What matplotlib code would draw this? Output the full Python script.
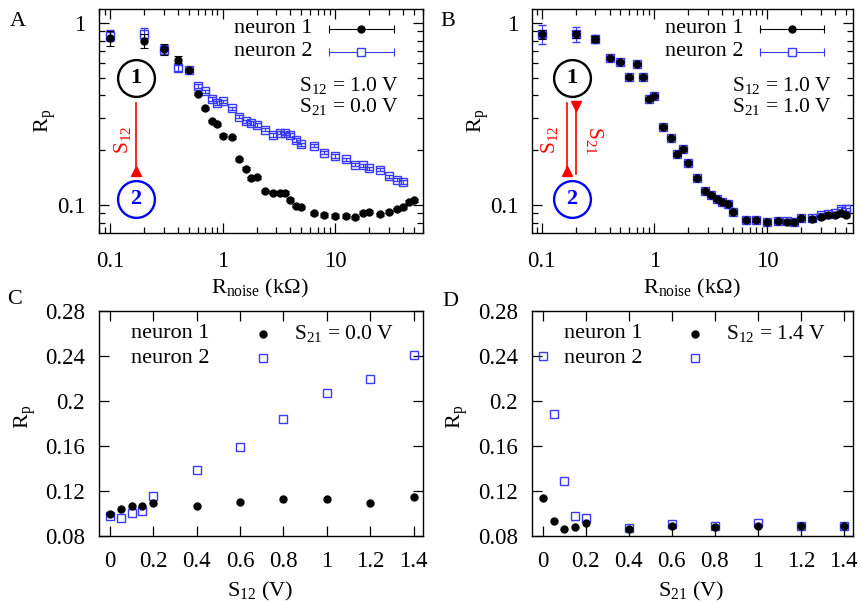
import matplotlib
matplotlib.use("Agg")
import matplotlib.pyplot as plt
from matplotlib.ticker import FixedLocator, NullFormatter, LogLocator
import numpy as np

plt.rcParams['font.family'] = ['Liberation Serif', 'DejaVu Serif']
plt.rcParams['mathtext.fontset'] = 'custom'
plt.rcParams['mathtext.rm'] = 'Liberation Serif'
plt.rcParams['mathtext.it'] = 'Liberation Serif:italic'
plt.rcParams['font.size'] = 16

# ---------------- data ----------------
r_noise = [0.1, 0.2, 0.3, 0.4, 0.5, 0.6, 0.7, 0.8, 0.9, 1.0, 1.2, 1.4, 1.6, 1.8, 2.0,
           2.4, 2.8, 3.2, 3.6, 4.0, 4.5, 5.0, 6.5, 8.0, 10, 12.5, 15, 17.5, 20, 25,
           30, 35, 40, 45, 50]

# Panel A (S12 = 1.0 V, S21 = 0.0 V)
a_n1 = [0.827, 0.80, 0.72, 0.63, 0.55, 0.41, 0.34, 0.29, 0.278, 0.241, 0.236, 0.178, 0.158,
        0.140, 0.142, 0.119, 0.117, 0.117, 0.117, 0.107, 0.099, 0.097, 0.090, 0.088, 0.087,
        0.087, 0.0855, 0.0908, 0.092, 0.089, 0.092, 0.0946, 0.097, 0.104, 0.106]
a_n1_err = [0.08, 0.07, 0.05, 0.03, 0.01, 0.008, 0.006, 0.005, 0.005, 0.004, 0.004, 0.003, 0.003,
            0.003, 0.003, 0.002, 0.002, 0.002, 0.002, 0.002, 0.002, 0.002, 0.002, 0.002, 0.002,
            0.002, 0.002, 0.002, 0.002, 0.002, 0.002, 0.002, 0.002, 0.002, 0.002]
a_n2 = [0.852, 0.874, 0.713, 0.565, 0.55, 0.452, 0.421, 0.382, 0.363, 0.371, 0.34, 0.306, 0.288,
        0.282, 0.275, 0.259, 0.243, 0.25, 0.248, 0.243, 0.228, 0.216, 0.212, 0.194, 0.186,
        0.178, 0.167, 0.165, 0.159, 0.156, 0.144, 0.138, 0.134]
a_n2_err = [0.06, 0.06, 0.04, 0.02, 0.015, 0.012, 0.01, 0.009, 0.008, 0.008, 0.007, 0.007, 0.006,
            0.006, 0.006, 0.005, 0.005, 0.005, 0.005, 0.005, 0.005, 0.004, 0.004, 0.004, 0.004,
            0.004, 0.004, 0.003, 0.003, 0.003, 0.003, 0.003, 0.003]

# Panel B (S12 = 1.0 V, S21 = 1.0 V)
b_n1 = [0.87, 0.87, 0.817, 0.641, 0.61, 0.504, 0.595, 0.508, 0.382, 0.398, 0.27, 0.235, 0.19,
        0.202, 0.171, 0.140, 0.120, 0.1135, 0.1074, 0.104, 0.102, 0.0919, 0.0826, 0.0826, 0.081,
        0.0815, 0.081, 0.0803, 0.0845, 0.084, 0.0855, 0.088, 0.088, 0.0908, 0.088]
b_n1_err = [0.05, 0.04, 0.03, 0.01, 0.01, 0.008, 0.008, 0.007, 0.005, 0.005, 0.004, 0.003, 0.003,
            0.003, 0.003, 0.002, 0.002, 0.002, 0.002, 0.002, 0.002, 0.002, 0.002, 0.002, 0.002,
            0.002, 0.002, 0.002, 0.002, 0.002, 0.002, 0.002, 0.002, 0.002, 0.002]
b_n2 = [0.87, 0.87, 0.817, 0.641, 0.61, 0.504, 0.595, 0.508, 0.382, 0.398, 0.27, 0.235, 0.19,
        0.202, 0.171, 0.140, 0.120, 0.1135, 0.1074, 0.104, 0.102, 0.0919, 0.0826, 0.0826, 0.081,
        0.0815, 0.0815, 0.0808, 0.0845, 0.0848, 0.088, 0.089, 0.09, 0.0953, 0.0946]
b_n2_err = [0.1, 0.08, 0.04, 0.015, 0.012, 0.01, 0.01, 0.009, 0.007, 0.007, 0.005, 0.004, 0.004,
            0.004, 0.003, 0.003, 0.003, 0.002, 0.002, 0.002, 0.002, 0.002, 0.002, 0.002, 0.002,
            0.002, 0.002, 0.002, 0.002, 0.002, 0.002, 0.002, 0.002, 0.002, 0.002]

# Panel C (S21 = 0.0 V), x = S12
s_vals = [0.0, 0.05, 0.1, 0.15, 0.2, 0.4, 0.6, 0.8, 1.0, 1.2, 1.4]
c_n1 = [0.0996, 0.1037, 0.1067, 0.1067, 0.1096, 0.1067, 0.1099, 0.1126, 0.1126, 0.1090, 0.1144]
c_n2 = [0.0978, 0.0957, 0.1007, 0.1025, 0.1156, 0.1387, 0.1594, 0.1837, 0.2074, 0.2199, 0.2406]

# Panel D (S12 = 1.4 V), x = S21
d_n1 = [0.1141, 0.0936, 0.0865, 0.0877, 0.0913, 0.0862, 0.0889, 0.0883, 0.0892, 0.0886, 0.0886]
d_n2 = [0.2403, 0.1887, 0.1292, 0.0978, 0.0957, 0.0871, 0.0907, 0.0892, 0.0913, 0.0889, 0.0892]

log_xticks = [0.1, 1, 10]
log_xticklabels = ['0.1', '1', '10']
log_yticks = [0.1, 1]
log_yticklabels = ['0.1', '1']
lin_xticks = [0, 0.2, 0.4, 0.6, 0.8, 1.0, 1.2, 1.4]
lin_xticklabels = ['0', '0.2', '0.4', '0.6', '0.8', '1', '1.2', '1.4']
lin_yticks = [0.08, 0.12, 0.16, 0.2, 0.24, 0.28]
lin_yticklabels = ['0.08', '0.12', '0.16', '0.2', '0.24', '0.28']

BLUE = '#3a3aff'
PURE_BLUE = '#0000ff'
RED = '#ff0000'
FS = 16
TFS = 16.5

W, H = 862, 605
fig = plt.figure(figsize=(W / 100, H / 100), dpi=100)


def ax_px(x0, y0, x1, y1):
    return fig.add_axes([x0 / W, 1 - y1 / H, (x1 - x0) / W, (y1 - y0) / H])


axA = ax_px(99, 9.3, 423, 232.7)
axB = ax_px(532, 9.3, 853, 232.7)
axC = ax_px(99, 311, 423, 536)
axD = ax_px(532, 311, 853, 536)


def style(ax):
    for s in ax.spines.values():
        s.set_linewidth(1.0)
    ax.tick_params(which='both', direction='in', top=True, right=True, width=0.9)
    ax.tick_params(which='major', length=7)
    ax.tick_params(which='minor', length=4)
    ax.tick_params(axis='y', pad=10, labelsize=TFS)
    ax.tick_params(axis='x', pad=13, labelsize=TFS)


def set_labels(ax, xlabel, xl_pos, yl_pos):
    ax.set_ylabel(r'$\mathrm{R_p}$', fontsize=FS)
    ax.set_xlabel(xlabel, fontsize=FS)
    ax.yaxis.set_label_coords(*yl_pos)
    ax.xaxis.set_label_coords(*xl_pos)
    ax.yaxis.label.set_ha('center')
    ax.yaxis.label.set_va('center')
    ax.xaxis.label.set_va('center')


def log_panel(ax, x, n1, e1, n2, e2, xlim, yl_x):
    ax.errorbar(x[:len(n2)], n2, yerr=e2, fmt='s', ms=6, mfc='none', mec=BLUE, mew=1.0,
                ecolor=BLUE, elinewidth=0.8, capsize=3, capthick=0.8, zorder=3)
    ax.errorbar(x[:len(n1)], n1, yerr=e1, fmt='o', ms=5, color='black', mec='black',
                ecolor='black', elinewidth=0.8, capsize=3, capthick=0.8, zorder=4)
    ax.set_xscale('log')
    ax.set_yscale('log')
    ax.set_xlim(*xlim)
    ax.set_ylim(0.0705, 1.19)
    ax.xaxis.set_major_locator(FixedLocator(log_xticks))
    ax.set_xticklabels(log_xticklabels)
    ax.xaxis.set_minor_locator(LogLocator(base=10, subs=np.arange(2, 10), numticks=20))
    ax.xaxis.set_minor_formatter(NullFormatter())
    ax.yaxis.set_major_locator(FixedLocator(log_yticks))
    ax.set_yticklabels(log_yticklabels)
    ax.yaxis.set_minor_locator(LogLocator(base=10, subs=np.arange(2, 10), numticks=20))
    ax.yaxis.set_minor_formatter(NullFormatter())
    style(ax)
    set_labels(ax, r'$\mathrm{R_{noise}}$ (k$\Omega$)', (0.497, -0.25), (yl_x, 0.5))
    # legend (manual, gnuplot style)
    T = ax.transAxes
    for yy, lab, kw in [(0.912, 'neuron 1', dict(marker='o', ms=5, color='black', mfc='black', mec='black')),
                        (0.809, 'neuron 2', dict(marker='s', ms=6, color=BLUE, mfc='white', mec=BLUE))]:
        ax.text(0.66, yy, lab, transform=T, ha='right', va='center', fontsize=FS)
        c = kw['color']
        ax.plot([0.71, 0.91], [yy, yy], transform=T, color=c, lw=0.8, clip_on=False, zorder=5)
        ax.plot([0.71, 0.91], [yy, yy], transform=T, ls='none', marker='|', ms=6, mew=0.8,
                color=c, clip_on=False, zorder=5)
        ax.plot([0.81], [yy], transform=T, ls='none', clip_on=False, zorder=6, **kw)


log_panel(axA, r_noise, a_n1, a_n1_err, a_n2, a_n2_err, (0.08, 60), -0.167)
log_panel(axB, r_noise, b_n1, b_n1_err, b_n2, b_n2_err, (0.082, 58), -0.168)

# text annotations A/B
for ax, s21, x0 in [(axA, '0.0', 0.617), (axB, '1.0', 0.623)]:
    T = ax.transAxes
    ax.text(x0, 0.657, r'$\mathrm{S_{12}}$ = 1.0 V', transform=T, ha='left', va='center', fontsize=15.5)
    ax.text(x0, 0.563, r'$\mathrm{S_{21}}$ = ' + s21 + ' V', transform=T, ha='left', va='center',
            fontsize=15.5)


def node(ax, fx, fy, label, color):
    T = ax.transAxes
    ax.plot([fx], [fy], transform=T, marker='o', ms=26.5, mfc='none', mec=color, mew=1.7,
            ls='none', clip_on=False, zorder=5)
    ax.text(fx, fy, label, transform=T, ha='center', va='center', fontsize=16,
            fontweight='bold', color=color, zorder=6)


# Panel A diagram
node(axA, 0.114, 0.6925, '1', 'black')
node(axA, 0.114, 0.151, '2', PURE_BLUE)
axA.plot([0.114, 0.114], [0.5805, 0.262], transform=axA.transAxes, color=RED, lw=1.2)
axA.plot([0.114], [0.275], transform=axA.transAxes, marker='^', ms=7, color=RED, ls='none')
axA.text(0.071, 0.415, r'$\mathrm{S_{12}}$', transform=axA.transAxes, rotation=90, color=RED,
         ha='center', va='center', fontsize=15.5)

# Panel B diagram
node(axB, 0.1246, 0.6925, '1', 'black')
node(axB, 0.1246, 0.151, '2', PURE_BLUE)
axB.plot([0.109, 0.109], [0.5805, 0.262], transform=axB.transAxes, color=RED, lw=1.2)
axB.plot([0.109], [0.275], transform=axB.transAxes, marker='^', ms=7, color=RED, ls='none')
axB.plot([0.137, 0.137], [0.5805, 0.262], transform=axB.transAxes, color=RED, lw=1.2)
axB.plot([0.137], [0.565], transform=axB.transAxes, marker='v', ms=7, color=RED, ls='none')
axB.text(0.056, 0.415, r'$\mathrm{S_{12}}$', transform=axB.transAxes, rotation=90, color=RED,
         ha='center', va='center', fontsize=15.5)
axB.text(0.196, 0.415, r'$\mathrm{S_{21}}$', transform=axB.transAxes, rotation=-90, color=RED,
         ha='center', va='center', fontsize=15.5)


def lin_panel(ax, n1, n2, xlabel, note, yl_x):
    ax.plot(s_vals, n2, 's', ms=6, mfc='none', mec=BLUE, mew=1.0, zorder=3)
    ax.plot(s_vals, n1, 'o', ms=5, color='black', zorder=4)
    ax.set_xlim(-0.05, 1.443)
    ax.set_ylim(0.08, 0.28)
    ax.xaxis.set_major_locator(FixedLocator(lin_xticks))
    ax.set_xticklabels(lin_xticklabels)
    ax.yaxis.set_major_locator(FixedLocator(lin_yticks))
    ax.set_yticklabels(lin_yticklabels)
    style(ax)
    ax.tick_params(axis='x', pad=11)
    set_labels(ax, xlabel, (0.497, -0.245), (yl_x, 0.53))
    T = ax.transAxes
    ax.text(0.10, 0.898, 'neuron 1', transform=T, ha='left', va='center', fontsize=FS)
    ax.text(0.10, 0.791, 'neuron 2', transform=T, ha='left', va='center', fontsize=FS)
    ax.plot([0.507], [0.898], 'o', ms=5, color='black', transform=T)
    ax.plot([0.507], [0.791], 's', ms=6, mfc='none', mec=BLUE, mew=1.0, transform=T)
    ax.text(0.603, 0.898, note, transform=T, ha='left', va='center', fontsize=15.5)


lin_panel(axC, c_n1, c_n2, r'$\mathrm{S_{12}}$ (V)', r'$\mathrm{S_{21}}$ = 0.0 V', -0.228)
lin_panel(axD, d_n1, d_n2, r'$\mathrm{S_{21}}$ (V)', r'$\mathrm{S_{12}}$ = 1.4 V', -0.234)

# panel letters
for lab, (px, py) in {'A': (18, 22), 'B': (448, 22), 'C': (15, 300), 'D': (450, 302)}.items():
    fig.text(px / W, 1 - py / H, lab, ha='center', va='center', fontsize=16)

fig.savefig('out.png', dpi=100)
